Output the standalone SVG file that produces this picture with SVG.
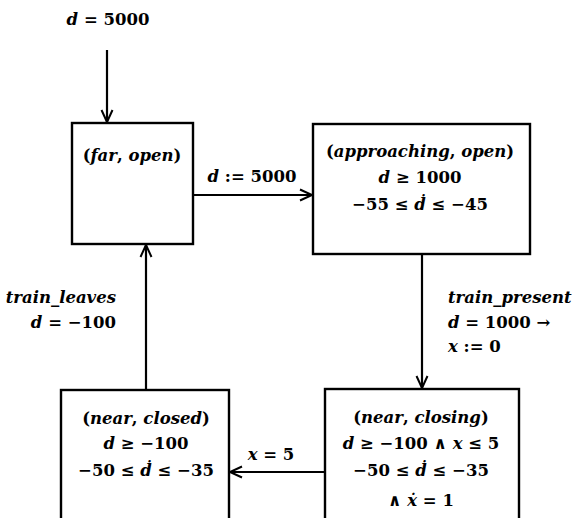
<svg xmlns="http://www.w3.org/2000/svg" width="572" height="518" viewBox="0 0 572 518">
<defs>
<marker id="ah" markerUnits="userSpaceOnUse" markerWidth="16" markerHeight="14" refX="13" refY="7" orient="auto">
<path d="M1,1.5 L13,7 L1,12.5" fill="none" stroke="#000" stroke-width="2"/>
</marker>
<style>
.box{fill:#fff;stroke:#000;stroke-width:2.4}
.edge{fill:none;stroke:#000;stroke-width:2.2;marker-end:url(#ah)}
text{font-family:"DejaVu Serif","Liberation Serif",serif;font-size:16.5px;font-weight:bold;fill:#000}
.c{text-anchor:middle}
.i{font-style:italic}
</style>
</defs>
<rect width="572" height="518" fill="#fff"/>
<g id="edges">
<line class="edge" x1="107" y1="50" x2="107" y2="122"/>
<line class="edge" x1="193" y1="195" x2="312" y2="195"/>
<line class="edge" x1="422" y1="254" x2="422" y2="388"/>
<line class="edge" x1="325" y1="472" x2="230" y2="472"/>
<line class="edge" x1="146" y1="390" x2="146" y2="245"/>
<text x="108" y="25" class="c"><tspan class="i">d</tspan> = 5000</text>
<text x="252" y="182" class="c"><tspan class="i">d</tspan> := 5000</text>
<text x="116" y="303" text-anchor="end" class="i">train_leaves</text>
<text x="116" y="328" text-anchor="end"><tspan class="i">d</tspan> = −100</text>
<text x="448" y="303" class="i">train_present</text>
<text x="448" y="328"><tspan class="i">d</tspan> = 1000 →</text>
<text x="448" y="352"><tspan class="i">x</tspan> := 0</text>
<text x="271" y="460" class="c"><tspan class="i">x</tspan> = 5</text>
</g>
<g id="far_open">
<rect class="box" x="72" y="123" width="121" height="121"/>
<text x="132" y="161" class="c">(<tspan class="i">far</tspan>, <tspan class="i">open</tspan>)</text>
</g>
<g id="approaching_open">
<rect class="box" x="313" y="124" width="217" height="130"/>
<text x="420" y="157" class="c">(<tspan class="i">approaching</tspan>, <tspan class="i">open</tspan>)</text>
<text x="420" y="183" class="c"><tspan class="i">d</tspan> ≥ 1000</text>
<text x="420" y="210" class="c">−55 ≤ <tspan class="i">ḋ</tspan> ≤ −45</text>
</g>
<g id="near_closed">
<rect class="box" x="61" y="390" width="168" height="150"/>
<text x="146" y="424" class="c">(<tspan class="i">near</tspan>, <tspan class="i">closed</tspan>)</text>
<text x="146" y="449" class="c"><tspan class="i">d</tspan> ≥ −100</text>
<text x="146" y="476" class="c">−50 ≤ <tspan class="i">ḋ</tspan> ≤ −35</text>
</g>
<g id="near_closing">
<rect class="box" x="325" y="389" width="194" height="150"/>
<text x="421" y="423" class="c">(<tspan class="i">near</tspan>, <tspan class="i">closing</tspan>)</text>
<text x="421" y="449" class="c"><tspan class="i">d</tspan> ≥ −100 ∧ <tspan class="i">x</tspan> ≤ 5</text>
<text x="421" y="476" class="c">−50 ≤ <tspan class="i">ḋ</tspan> ≤ −35</text>
<text x="421" y="506" class="c">∧ <tspan class="i">ẋ</tspan> = 1</text>
</g>
</svg>
